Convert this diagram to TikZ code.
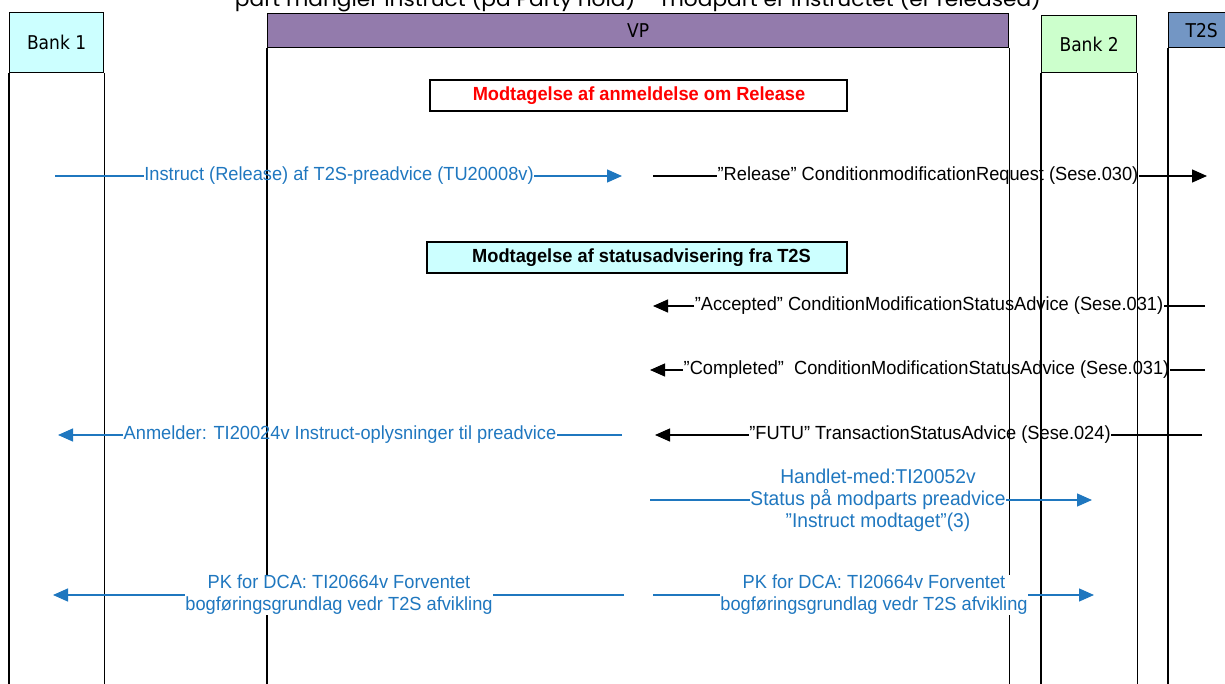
\documentclass[tikz,border=0pt]{standalone}
\usepackage{fontspec}
\usepackage{graphicx}
\setmainfont{Liberation Sans}
\newfontfamily\msgfont{Liberation Sans}[FakeStretch=0.96]
\newfontfamily\hdrfont{DejaVu Sans}[FakeStretch=0.9]
\newfontfamily\ttlfont{Poppins}
\usetikzlibrary{arrows.meta}
\definecolor{msgblue}{RGB}{31,119,191}
\definecolor{hdrcyan}{RGB}{204,255,255}
\definecolor{hdrpurple}{RGB}{147,123,172}
\definecolor{hdrgreen}{RGB}{204,255,204}
\definecolor{hdrblue}{RGB}{115,150,196}
\tikzset{
  hdr/.style={draw=black, line width=1.3pt, inner sep=0pt, anchor=north west,
    font=\hdrfont\fontsize{19}{22}\selectfont},
  life/.style={draw=black, line width=1.3pt},
  msg/.style={font=\msgfont\fontsize{19}{22}\selectfont, inner sep=0.5pt, align=center},
  bluemsg/.style={msg, text=msgblue},
  blackmsg/.style={msg, text=black},
  blueline/.style={draw=msgblue, line width=1.3pt},
  blackline/.style={draw=black, line width=1.3pt},
  tip/.style={-{Triangle[length=15pt,width=13pt]}},
  secbox/.style={draw=black, line width=1.3pt, minimum height=31pt, inner sep=0pt},
  sectext/.style={inner sep=0pt, font=\msgfont\bfseries\fontsize{19}{22}\selectfont}
}
\begin{document}
\begin{tikzpicture}[x=1pt,y=-1pt]
\path[use as bounding box] (0,0) rectangle (1225,684);
\clip (0,0) rectangle (1225,684);
\coordinate (bot) at (0,692);
% title (cut off at top)
\node[anchor=base, inner sep=0pt, font=\ttlfont\fontsize{20}{24}\selectfont] (title) at (638,6.5)
  {\resizebox{806pt}{\height}{part mangler instruct (på Party hold) – modpart er instructet (er released)}};
% headers
\node[hdr, fill=hdrcyan, minimum width=94pt, minimum height=60pt] (bank1) at (9,12) {Bank 1};
\node[hdr, fill=hdrpurple, minimum width=741pt, minimum height=34pt] (vp) at (267,13) {VP};
\node[hdr, fill=hdrgreen, minimum width=95pt, minimum height=57pt] (bank2) at (1041,15) {Bank 2};
\node[hdr, fill=hdrblue, minimum width=66pt, minimum height=35pt] (t2s) at (1168,12) {T2S};
% lifelines
\foreach \n in {bank1,vp,bank2,t2s}{
  \draw[life] (\n.south west) -- (\n.south west |- bot);
  \draw[life] (\n.south east) -- (\n.south east |- bot);
}
% section boxes
\node[secbox, fill=white, minimum width=417pt] (sec1) at (638.5,95.5) {};
\node[sectext, text=red] (sec1t) at (639,96) {Modtagelse af anmeldelse om Release};
\node[secbox, fill=hdrcyan, minimum width=420pt] (sec2) at (637,257.5) {};
\node[sectext] (sec2t) at (641.5,258) {Modtagelse af statusadvisering fra T2S};
% message 1
\coordinate (m1s) at (55,176); \coordinate (m1e) at (622,176);
\node[bluemsg] (m1) at (339,176) {Instruct (Release) af T2S-preadvice (TU20008v)};
\draw[blueline] (m1s) -- (m1.west);
\draw[blueline, tip] (m1.east) -- (m1e);
% message 2
\coordinate (m2s) at (653,176); \coordinate (m2e) at (1207,176);
\node[blackmsg] (m2) at (928,176) {”Release” ConditionmodificationRequest (Sese.030)};
\draw[blackline] (m2s) -- (m2.west);
\draw[blackline, tip] (m2.east) -- (m2e);
% message 3
\coordinate (m3s) at (1205,306); \coordinate (m3e) at (653,306);
\node[blackmsg] (m3) at (929,306) {”Accepted” ConditionModificationStatusAdvice (Sese.031)};
\draw[blackline] (m3s) -- (m3.east);
\draw[blackline, tip] (m3.west) -- (m3e);
% message 4
\coordinate (m4s) at (1205,370); \coordinate (m4e) at (650,370);
\node[blackmsg] (m4) at (926.5,370) {”Completed”\ \ ConditionModificationStatusAdvice (Sese.031)};
\draw[blackline] (m4s) -- (m4.east);
\draw[blackline, tip] (m4.west) -- (m4e);
% message 5
\coordinate (m5s) at (1202,435); \coordinate (m5e) at (655,435);
\node[blackmsg] (m5) at (930,435) {”FUTU” TransactionStatusAdvice (Sese.024)};
\draw[blackline] (m5s) -- (m5.east);
\draw[blackline, tip] (m5.west) -- (m5e);
% message 6
\coordinate (m6s) at (622,435); \coordinate (m6e) at (58,435);
\node[bluemsg] (m6) at (340,435) {Anmelder: TI20024v Instruct-oplysninger til preadvice};
\draw[blueline] (m6s) -- (m6.east);
\draw[blueline, tip] (m6.west) -- (m6e);
% message 7
\coordinate (m7s) at (650,500); \coordinate (m7e) at (1092,500);
\node[bluemsg, font=\msgfont\fontsize{20}{22}\selectfont] (m7) at (878,500) {Handlet-med:TI20052v\\Status på modparts preadvice\\”Instruct modtaget”(3)};
\draw[blueline] (m7s) -- (m7.west);
\draw[blueline, tip] (m7.east) -- (m7e);
% message 8
\coordinate (m8s) at (624,595); \coordinate (m8e) at (53,595);
\node[bluemsg, fill=white] (m8) at (339,595) {PK for DCA: TI20664v Forventet\\bogføringsgrundlag vedr T2S afvikling};
\draw[blueline] (m8s) -- (m8.east);
\draw[blueline, tip] (m8.west) -- (m8e);
% message 9
\coordinate (m9s) at (653,595); \coordinate (m9e) at (1094,595);
\node[bluemsg, fill=white] (m9) at (874,595) {PK for DCA: TI20664v Forventet\\bogføringsgrundlag vedr T2S afvikling};
\draw[blueline] (m9s) -- (m9.west);
\draw[blueline, tip] (m9.east) -- (m9e);
\end{tikzpicture}
\end{document}
